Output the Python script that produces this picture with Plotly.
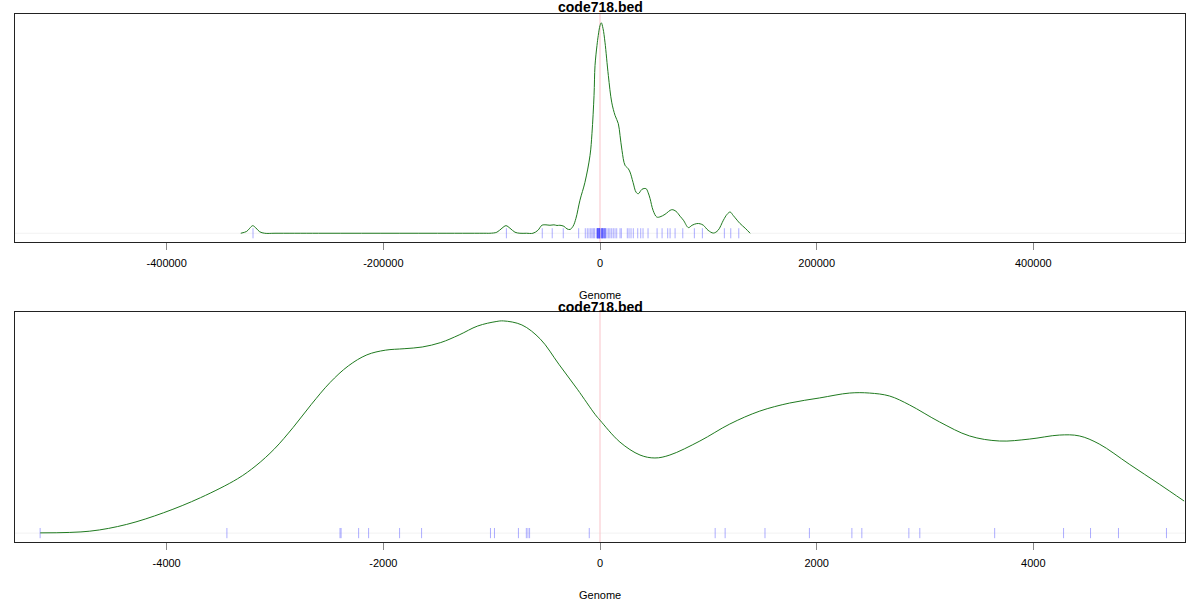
import plotly.graph_objects as go
from plotly.subplots import make_subplots

title_text = "code718.bed"
x_label = "Genome"

# ---- top panel: density over the whole region ----
top_x = [-331600, -326100, -323300, -320600, -317800, -314100, -309500, -300000, -260000,
         -220000, -184800, -150000, -120000, -105000, -101600,
         -95200, -90500, -86800, -83100, -78500, -73900, -68000, -61900, -57300, -53600, -49900,
         -46200, -42500, -39700, -37000, -33300, -30500, -27700, -24900, -22200, -18500,
         -13900, -9200, -7400, -5500, -4600, -2800, -1600, 0, 1200, 2800, 4600, 7700,
         10800, 13900, 16900, 18500, 20300, 23100, 25900, 27700, 30500, 33300, 35400,
         38800, 42500, 44300, 46200, 49000, 52400, 55400, 60000, 66200, 70200, 73900,
         77000, 81600, 85000, 89300, 92400, 95400, 99800, 104700, 109000, 113900, 117300,
         120100, 122900, 126600, 129300, 134000, 138600]
top_y = [0.0, 0.009, 0.024, 0.036, 0.026, 0.007, 0.0, 0.0, 0.0,
         0.0, 0.0, 0.0, 0.0, 0.0, 0.0,
         0.005, 0.024, 0.036, 0.024, 0.005, 0.0, 0.0, 0.0, 0.014, 0.038, 0.040,
         0.038, 0.040, 0.037, 0.038, 0.033, 0.021, 0.018, 0.033, 0.071, 0.157,
         0.242, 0.370, 0.475, 0.655, 0.797, 0.892, 0.940, 0.987, 1.000, 0.973, 0.908, 0.750,
         0.623, 0.560, 0.521, 0.465, 0.394, 0.323, 0.308, 0.291, 0.242, 0.195, 0.188,
         0.209, 0.212, 0.195, 0.165, 0.109, 0.077, 0.078, 0.090, 0.112, 0.104, 0.081,
         0.062, 0.027, 0.038, 0.046, 0.045, 0.038, 0.014, 0.001, 0.014, 0.062, 0.090,
         0.101, 0.085, 0.062, 0.046, 0.024, 0.0]

# ---- bottom panel: zoom on +-5400 ----
bot_x = [-5167, -4710, -4369, -4028, -3687, -3346, -3175, -3005, -2834, -2664, -2493,
         -2323, -2152, -1982, -1808, -1641, -1470, -1300, -1129, -959, -891, -721, -550,
         -380, -209, -46, 0, 184, 369, 507, 645, 922, 1198, 1475, 1751, 2028, 2304, 2488,
         2673, 2857, 3134, 3410, 3687, 3963, 4240, 4424, 4608, 4885, 5162, 5392]
bot_y = [0.001, 0.009, 0.041, 0.096, 0.167, 0.256, 0.318, 0.397, 0.497, 0.607, 0.709,
         0.788, 0.840, 0.862, 0.869, 0.877, 0.898, 0.934, 0.976, 0.997, 1.000, 0.981, 0.914,
         0.796, 0.678, 0.560, 0.532, 0.429, 0.368, 0.354, 0.368, 0.434, 0.514, 0.575, 0.613,
         0.637, 0.660, 0.660, 0.646, 0.604, 0.524, 0.458, 0.434, 0.443, 0.462, 0.458, 0.420,
         0.325, 0.231, 0.151]

# rug positions (sites)
near_sites = [-5168, -3444, -2400, -2390, -2228, -2136, -1850, -1647, -1011, -974, -753,
              -680, -665, -650, -99, 1063, 1155, 1523, 1933, 2325, 2417, 2851, 2952, 3643,
              4279, 4528, 4786, 5229]
far_sites = [-320300, -86400, -53300, -44100, -33900, -19700, -13580, -11730, -10160, -8590,
             -7390, -6190, 6470, 8040, 9240, 10810, 12290, 13860, 15430, 18480, 19680,
             25220, 26790, 28640, 30760, 34830, 37600, 39720, 44340, 52700, 57300, 62500,
             64700, 69300, 76400, 87100, 94500, 114800, 120700, 128100]

top_ticks = [-400000, -200000, 0, 200000, 400000]
bot_ticks = [-4000, -2000, 0, 2000, 4000]

top_range = [-540000, 540000]
bot_range = [-5400, 5400]
y_range = [-0.042, 1.042]

fig = make_subplots(rows=2, cols=1, vertical_spacing=0.1325)
fig.update_yaxes(domain=[0.568, 1.0], row=1, col=1)
fig.update_yaxes(domain=[0.0, 0.4356], row=2, col=1)
fig.update_xaxes(domain=[0.0, 1.0])

GREEN = "#1f7a1f"
RUG = "rgba(60,60,255,0.42)"
PINK = "rgba(250,200,205,0.55)"
ZLINE = "#f2f2f2"

def rug_xy(sites, h=0.024):
    xs, ys = [], []
    for s in sites:
        xs += [s, s, None]
        ys += [-h, h, None]
    return xs, ys

panels = [
    (1, top_x, top_y, far_sites + near_sites, top_range, top_ticks),
    (2, bot_x, bot_y, near_sites, bot_range, bot_ticks),
]
for row, cx, cy, sites, xr, ticks in panels:
    fig.add_trace(go.Scatter(x=[xr[0], xr[1]], y=[0, 0], mode="lines",
                             line=dict(color=ZLINE, width=1), hoverinfo="skip",
                             showlegend=False), row=row, col=1)
    fig.add_trace(go.Scatter(x=[0, 0], y=[y_range[0], y_range[1]], mode="lines",
                             line=dict(color=PINK, width=2), hoverinfo="skip",
                             showlegend=False), row=row, col=1)
    rx, ry = rug_xy(sites)
    fig.add_trace(go.Scatter(x=rx, y=ry, mode="lines", line=dict(color=RUG, width=1),
                             hoverinfo="skip", showlegend=False), row=row, col=1)
    fig.add_trace(go.Scatter(x=cx, y=cy, mode="lines", line=dict(color=GREEN, width=1),
                             line_shape="spline", showlegend=False), row=row, col=1)
    fig.update_xaxes(range=xr, tickvals=ticks, ticktext=[str(t) for t in ticks],
                     showline=True, linecolor="#222", linewidth=1, mirror=True,
                     ticks="outside", ticklen=7, tickcolor="#888", tickwidth=1,
                     ticklabelstandoff=4,
                     showgrid=False, zeroline=False,
                     tickfont=dict(family="Liberation Sans, Arial", size=11, color="#000"),
                     row=row, col=1)
    fig.update_yaxes(range=y_range, showline=True, linecolor="#222", linewidth=1,
                     mirror=True, showticklabels=False, ticks="", showgrid=False,
                     zeroline=False, row=row, col=1)

PLOT_BOTTOM = 542.0
PLOT_H = 528.0
ann = []
for ytitle, ylab in [(7, 295), (307, 595)]:
    ann.append(dict(text="<b>" + title_text + "</b>", x=0.5, xref="paper",
                    y=(PLOT_BOTTOM - ytitle) / PLOT_H, yref="paper", showarrow=False,
                    font=dict(family="Liberation Sans, Arial", size=14, color="#000"),
                    xanchor="center", yanchor="middle"))
    ann.append(dict(text=x_label, x=0.5, xref="paper",
                    y=(PLOT_BOTTOM - ylab) / PLOT_H, yref="paper", showarrow=False,
                    font=dict(family="Liberation Sans, Arial", size=11, color="#000"),
                    xanchor="center", yanchor="middle"))

fig.update_layout(width=1200, height=600, margin=dict(l=15, r=15, t=14, b=58),
                  plot_bgcolor="white", paper_bgcolor="white", annotations=ann,
                  showlegend=False)

fig.write_html("out.html", config={"displayModeBar": False},
               post_script="document.body.style.margin='0';document.body.style.overflow='hidden';")
